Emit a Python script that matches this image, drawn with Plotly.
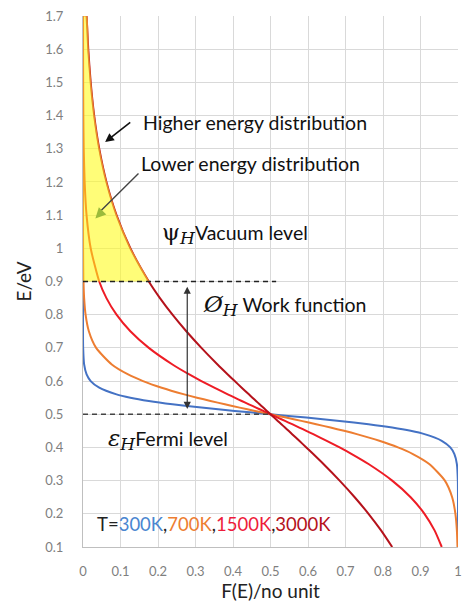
import plotly.graph_objects as go

# Energy levels (eV) at which the curves were read
energy = [0.10, 0.15, 0.20, 0.25, 0.30, 0.35, 0.38, 0.40, 0.42, 0.44, 0.45, 0.46, 0.47, 0.48, 0.49,
          0.50, 0.51, 0.52, 0.53, 0.54, 0.55, 0.56, 0.58, 0.60, 0.62, 0.65, 0.70, 0.75, 0.80, 0.85,
          0.90, 1.00, 1.10, 1.20, 1.30, 1.40, 1.50, 1.60, 1.70]

f_300K = [1.0000, 1.0000, 1.0000, 1.0000, 0.9996, 0.9970, 0.9904, 0.9795, 0.9567, 0.9106, 0.8737,
          0.8245, 0.7614, 0.6843, 0.5955, 0.5000, 0.4045, 0.3157, 0.2386, 0.1755, 0.1263, 0.0894,
          0.0433, 0.0205, 0.0096, 0.0030, 0.0004, 0.0000, 0.0000, 0.0000, 0.0000, 0.0000, 0.0000,
          0.0000, 0.0000, 0.0000, 0.0000, 0.0000, 0.0000]
f_700K = [0.9987, 0.9970, 0.9931, 0.9844, 0.9650, 0.9232, 0.8797, 0.8399, 0.7902, 0.7300, 0.6961,
          0.6600, 0.6218, 0.5821, 0.5414, 0.5000, 0.4586, 0.4179, 0.3782, 0.3400, 0.3039, 0.2700,
          0.2098, 0.1601, 0.1203, 0.0768, 0.0350, 0.0156, 0.0069, 0.0030, 0.0013, 0.0003, 0.0000,
          0.0000, 0.0000, 0.0000, 0.0000, 0.0000, 0.0000]
f_1500K = [0.9567, 0.9375, 0.9106, 0.8737, 0.8245, 0.7614, 0.7167, 0.6843, 0.6500, 0.6140, 0.5955,
           0.5768, 0.5577, 0.5386, 0.5193, 0.5000, 0.4807, 0.4614, 0.4423, 0.4232, 0.4045, 0.3860,
           0.3500, 0.3157, 0.2833, 0.2386, 0.1755, 0.1263, 0.0894, 0.0625, 0.0433, 0.0205, 0.0095,
           0.0044, 0.0020, 0.0009, 0.0004, 0.0002, 0.0001]
f_3000K = [0.8245, 0.7948, 0.7614, 0.7245, 0.6843, 0.6412, 0.6140, 0.5955, 0.5768, 0.5577, 0.5482,
           0.5386, 0.5290, 0.5193, 0.5097, 0.5000, 0.4903, 0.4807, 0.4710, 0.4614, 0.4518, 0.4423,
           0.4232, 0.4045, 0.3860, 0.3588, 0.3157, 0.2755, 0.2386, 0.2052, 0.1755, 0.1263, 0.0894,
           0.0625, 0.0433, 0.0298, 0.0205, 0.0140, 0.0095]

series_names = ["300K", "700K", "1500K", "3000K"]
series_colors = ["#4472C4", "#ED7D31", "#EE1C25", "#B5121B"]
series_values = [f_300K, f_700K, f_1500K, f_3000K]

fermi_level = 0.5
vacuum_level = 0.9
fermi_line_x = [0.0, 0.5]
vacuum_line_x = [0.0, 0.515]
work_arrow_x = 0.278

x_ticks = [0, 0.1, 0.2, 0.3, 0.4, 0.5, 0.6, 0.7, 0.8, 0.9, 1]
x_tick_labels = ["0", "0.1", "0.2", "0.3", "0.4", "0.5", "0.6", "0.7", "0.8", "0.9", "1"]
y_ticks = [0.1, 0.2, 0.3, 0.4, 0.5, 0.6, 0.7, 0.8, 0.9, 1.0, 1.1, 1.2, 1.3, 1.4, 1.5, 1.6, 1.7]
y_tick_labels = ["0.1", "0.2", "0.3", "0.4", "0.5", "0.6", "0.7", "0.8", "0.9", "1",
                 "1.1", "1.2", "1.3", "1.4", "1.5", "1.6", "1.7"]

FONT = "Lato"
SYM = "font-size:23px;font-family:DejaVu Serif"
SUB = "font-size:17px;font-family:DejaVu Serif"
fig = go.Figure()

for name, color, vals in zip(series_names, series_colors, series_values):
    fig.add_trace(go.Scatter(x=vals, y=energy, mode="lines", name=name,
                             line=dict(color=color, width=2, shape="spline", smoothing=0.6),
                             showlegend=False, hoverinfo="skip"))

# Yellow area above the vacuum level, bounded by the 3000K curve
hi_E = [e for e in energy if e >= vacuum_level]
hi_F = [f for e, f in zip(energy, f_3000K) if e >= vacuum_level]
fill_x = [0.0] * len(hi_E) + hi_F[::-1]
fill_y = hi_E + hi_E[::-1]
fig.add_trace(go.Scatter(x=fill_x, y=fill_y, mode="lines", fill="toself",
                         fillcolor="rgba(255,252,30,0.6)",
                         line=dict(width=1.3, color="rgba(240,140,50,0.85)", shape="spline", smoothing=0.4),
                         showlegend=False, hoverinfo="skip"))

# Dashed reference levels
fig.add_trace(go.Scatter(x=vacuum_line_x, y=[vacuum_level] * 2, mode="lines",
                         line=dict(color="#222222", width=1.3, dash="5px,4px"), showlegend=False,
                         hoverinfo="skip"))
fig.add_trace(go.Scatter(x=fermi_line_x, y=[fermi_level] * 2, mode="lines",
                         line=dict(color="#444444", width=1.3, dash="5px,4px"), showlegend=False,
                         hoverinfo="skip"))

ann = []
# work function double arrow
ann.append(dict(x=work_arrow_x, y=fermi_level + 0.016, ax=work_arrow_x, ay=vacuum_level - 0.011,
                xref="x", yref="y", axref="x", ayref="y", text="", showarrow=True,
                arrowside="end+start", arrowhead=2, arrowsize=1.2, arrowwidth=1.2, arrowcolor="#333333"))
# Higher energy arrow
ann.append(dict(x=0.059, y=1.32, ax=0.13, ay=1.383, xref="x", yref="y", axref="x", ayref="y",
                text="", showarrow=True, arrowhead=2, arrowsize=1.1, arrowwidth=1.6, arrowcolor="#111111"))
# Lower energy arrow: line then coloured head
ann.append(dict(x=0.045, y=1.11, ax=0.152, ay=1.23, xref="x", yref="y", axref="x", ayref="y",
                text="", showarrow=True, arrowhead=0, arrowwidth=1.4, arrowcolor="#444444"))
ann.append(dict(x=0.033, y=1.09, ax=0.05, ay=1.11, xref="x", yref="y", axref="x", ayref="y",
                text="", showarrow=True, arrowhead=2, arrowsize=1.3, arrowwidth=1.6, arrowcolor="#9BBB3B"))

txt_font = dict(family=FONT, size=19.5, color="#111111")
ann.append(dict(x=0.155, y=1.378, xref="x", yref="y", xanchor="left", yanchor="middle",
                text="Higher energy distribution", showarrow=False, font=txt_font))
ann.append(dict(x=0.150, y=1.257, xref="x", yref="y", xanchor="left", yanchor="middle",
                text="Lower energy distribution", showarrow=False, font=txt_font))
ann.append(dict(x=0.205, y=1.046, xref="x", yref="y", xanchor="left", yanchor="middle",
                text=f"<span style='{SYM}'>ψ</span><sub><span style='{SUB}'><i>H</i></span></sub>Vacuum level",
                showarrow=False, font=txt_font))
ann.append(dict(x=0.315, y=0.828, xref="x", yref="y", xanchor="left", yanchor="middle",
                text=f"<span style='{SYM}'><i>Ø</i></span><sub><span style='{SUB}'><i>H</i></span></sub> Work function",
                showarrow=False, font=txt_font))
ann.append(dict(x=0.062, y=0.425, xref="x", yref="y", xanchor="left", yanchor="middle",
                text=f"<span style='{SYM}'><i>ε</i></span><sub><span style='{SUB}'><i>H</i></span></sub>Fermi level",
                showarrow=False, font=txt_font))
ann.append(dict(x=0.031, y=0.17, xref="x", yref="y", xanchor="left", yanchor="middle",
                text="T=<span style='color:#4A86D0'>300K</span>,<span style='color:#ED7D31'>700K</span>,"
                     "<span style='color:#EE1C3A'>1500K</span>,<span style='color:#B5121B'>3000K</span>",
                showarrow=False, font=dict(family=FONT, size=18.5, color="#222222")))

fig.update_layout(
    width=463, height=605,
    margin=dict(l=83, r=1, t=16, b=58),
    paper_bgcolor="white", plot_bgcolor="white",
    annotations=ann,
    font=dict(family=FONT),
    hovermode=False,
)
fig.update_xaxes(range=[0, 1], tickvals=x_ticks, ticktext=x_tick_labels,
                 showgrid=True, gridcolor="#D9D9D9", gridwidth=1, zeroline=False,
                 showline=True, linecolor="#BFBFBF", linewidth=1, ticks="", ticklabelstandoff=12,
                 ticklabeloverflow="allow",
                 tickfont=dict(family=FONT, size=13, color="#7F7F7F"),
                 title=dict(text="F(E)/no unit", font=dict(family=FONT, size=19, color="#222222"), standoff=4))
fig.update_yaxes(range=[0.1, 1.7], tickvals=y_ticks, ticktext=y_tick_labels,
                 showgrid=True, gridcolor="#D9D9D9", gridwidth=1, zeroline=False,
                 showline=True, linecolor="#BFBFBF", linewidth=1, ticks="", ticklabelstandoff=16,
                 ticklabeloverflow="allow",
                 tickfont=dict(family=FONT, size=13, color="#7F7F7F"),
                 title=dict(text="E/eV", font=dict(family=FONT, size=19, color="#222222"), standoff=8))

# remove the default page margin so the 463x605 figure fills the window exactly
fig.write_html("out.html", config={"displayModeBar": False},
               post_script="document.body.style.margin='0px';document.body.style.overflow='hidden';")
